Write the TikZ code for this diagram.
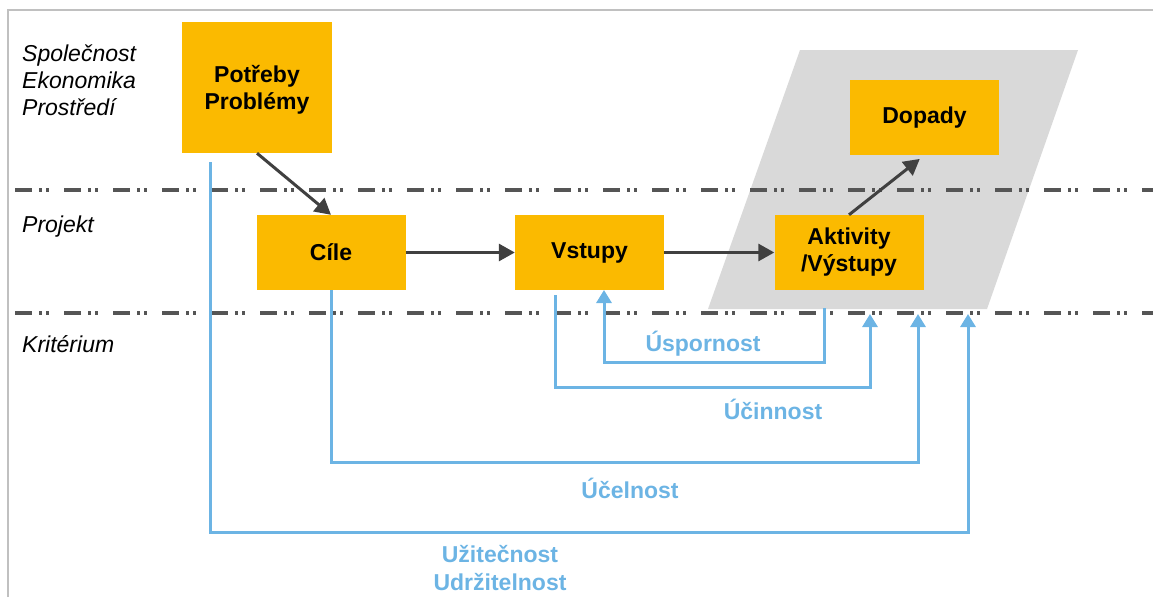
\documentclass[tikz,border=0pt]{standalone}
\usepackage{fontspec}
\setmainfont{Liberation Sans}
\usetikzlibrary{arrows.meta,calc}
\definecolor{boxfill}{HTML}{FBBA00}
\definecolor{flow}{HTML}{6CB4E4}
\definecolor{darkline}{HTML}{404040}
\definecolor{sepcol}{HTML}{555555}
\definecolor{band}{HTML}{D9D9D9}
\definecolor{framecol}{HTML}{C0C0C0}
\begin{document}
\begin{tikzpicture}[x=1pt,y=-1pt,
  box/.style={fill=boxfill, minimum width=149pt, minimum height=75pt, inner sep=0pt, align=center, font=\fontsize{23}{27}\selectfont\bfseries},
  darr/.style={draw=darkline, line width=3pt, -{Triangle[width=17pt,length=16pt]}},
  barr/.style={draw=flow, line width=3pt, -{Triangle[width=15pt,length=13pt]}},
  blab/.style={text=flow, font=\fontsize{23}{28}\selectfont\bfseries, align=center},
  side/.style={anchor=west, font=\fontsize{23}{27}\selectfont\itshape, align=left, inner sep=0pt},
  sepline/.style={draw=sepcol, line width=3.2pt, dash pattern=on 17pt off 7pt on 3pt off 4pt on 3pt off 15pt}
]
\useasboundingbox (0,0) rectangle (1153,597);
% frame
\draw[framecol, line width=2pt] (8,597) -- (8,10) -- (1153,10);
% grey band
\fill[band] (800,50) -- (1078,50) -- (987,309) -- (708,309) -- cycle;
% separators
\draw[sepline] (15,190) -- (1153,190);
\draw[sepline] (15,313) -- (1153,313);
% side labels
\node[side] (soc) at (22,80) {Společnost\\Ekonomika\\Prostředí};
\node[side] (proj) at (22,227) {Projekt};
\node[side] (krit) at (22,344) {Kritérium};
% boxes
\node[box, minimum height=131pt, minimum width=150pt, text depth=0pt] (pot) at (257,87.5) {Potřeby\\Problémy};
\node[box] (cile) at (331,252.5) {\raisebox{-2pt}{Cíle}};
\node[box] (vst) at (589.5,252.5) {\raisebox{-2pt}{Vstupy}};
\node[box] (akt) at (849,252.5) {Aktivity\\/Výstupy};
\node[box] (dop) at (924.5,117.5) {\raisebox{-2pt}{Dopady}};
% dark arrows
\draw[darr] (pot.south) -- (cile.north);
\draw[darr] (cile.east) -- (vst.west);
\draw[darr] (vst.east) -- (akt.west);
\draw[darr, shorten >=6pt] (akt.north) -- (dop.south);
% blue feedback lines
\coordinate (ua) at (824,308);
\coordinate (ub) at (604,290);
\draw[barr] (ua) -- ++(0,54) -| (ub);
\coordinate (ca) at (555,295);
\coordinate (cb) at (870,314);
\draw[barr] (ca) -- ++(0,92) -| (cb);
\coordinate (eb) at (918,314);
\draw[barr] (cile.south) -- ++(0,172) -| (eb);
\coordinate (za) at (210,162);
\coordinate (zb) at (968,314);
\draw[barr] (za) -- ++(0,370) -| (zb);
% blue labels
\node[blab] (lusp) at (703,344) {Úspornost};
\node[blab] (lucin) at (773,409) {Účinnost};
\node[blab] (lucel) at (630,488) {Účelnost};
\node[blab] (luzit) at (500,568) {Užitečnost\\Udržitelnost};
\end{tikzpicture}
\end{document}
